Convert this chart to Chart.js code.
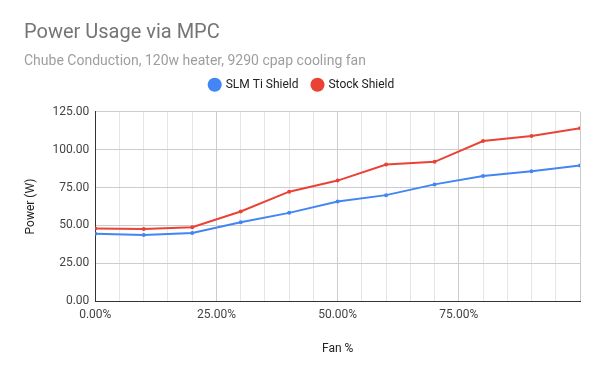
<!DOCTYPE html>
<html>
<head>
<meta charset="utf-8">
<script src="https://cdn.jsdelivr.net/npm/chart.js@4"></script>
<style>
  body { margin: 0; background: #fff; }
  #wrap { width: 600px; height: 371px; }
</style>
</head>
<body>
<div id="wrap"><canvas id="chart"></canvas></div>
<script>
// Dados
const fanPct = [0, 10, 20, 30, 40, 50, 60, 70, 80, 90, 100];
const slmTiShield = [44.5, 43.7, 45.0, 52.1, 58.3, 65.8, 70.0, 77.1, 82.7, 85.8, 89.5];
const stockShield = [47.9, 47.7, 48.8, 59.2, 72.3, 79.6, 90.2, 92.0, 105.7, 109.0, 114.2];
const yTicks = [0, 25, 50, 75, 100, 125];

const toPoints = (vals) => vals.map((v, i) => ({ x: fanPct[i], y: v }));

function makeSeries(label, values, color) {
    return {
        label: label,
        data: toPoints(values),
        borderColor: color,
        backgroundColor: color,
        borderWidth: 2,
        pointRadius: 2,
        pointBorderWidth: 0,
        pointBackgroundColor: color,
        tension: 0
    };
}

// espaço extra abaixo da legenda
const legendGap = {
    id: 'legendGap',
    beforeInit(chart) {
        const origFit = chart.legend.fit;
        chart.legend.fit = function() {
            origFit.bind(chart.legend)();
            this.height += 11;
        };
    }
};

const chartConfig = {
    type: 'line',
    data: {
        datasets: [
            makeSeries('SLM Ti Shield', slmTiShield, '#4285F4'),
            makeSeries('Stock Shield', stockShield, '#EA4335')
        ]
    },
    options: {
        responsive: true,
        maintainAspectRatio: false,
        animation: false,
        layout: {
            padding: { left: 24, right: 20, top: 21, bottom: 15 }
        },
        plugins: {
            title: {
                display: true,
                text: 'Power Usage via MPC',
                align: 'start',
                color: '#757575',
                font: { family: 'Roboto', size: 20, weight: 'normal' },
                padding: { top: 0, bottom: 8 }
            },
            subtitle: {
                display: true,
                text: 'Chube Conduction, 120w heater, 9290 cpap cooling fan',
                align: 'start',
                color: '#9e9e9e',
                font: { family: 'Roboto', size: 14, weight: 'normal' },
                padding: { top: 0, bottom: -5 }
            },
            legend: {
                display: true,
                position: 'top',
                labels: {
                    usePointStyle: true,
                    pointStyle: 'circle',
                    boxWidth: 10,
                    boxHeight: 10,
                    color: '#222',
                    padding: 14,
                    font: { family: 'Roboto', size: 12 }
                }
            },
            tooltip: { enabled: false }
        },
        scales: {
            x: {
                type: 'linear',
                min: 0,
                max: 100,
                border: { color: '#333', width: 1 },
                grid: {
                    drawTicks: false,
                    color: (ctx) => (ctx.tick && ctx.tick.value % 25 === 0) ? '#cccccc' : '#e6e6e6'
                },
                ticks: {
                    stepSize: 5,
                    autoSkip: false,
                    maxRotation: 0,
                    padding: 7,
                    color: '#444',
                    font: { family: 'Roboto', size: 12 },
                    callback: function(value) {
                        if (value % 25 !== 0 || value === 100) return '';
                        return value.toFixed(2) + '%';
                    }
                },
                title: {
                    display: true,
                    text: 'Fan %',
                    color: '#222',
                    font: { family: 'Roboto', size: 12 },
                    padding: { top: 12, bottom: 0 }
                }
            },
            y: {
                min: 0,
                max: 125,
                border: { color: '#333', width: 1 },
                grid: { drawTicks: false, color: '#cccccc' },
                afterBuildTicks: (axis) => {
                    axis.ticks = yTicks.map(v => ({ value: v }));
                },
                ticks: {
                    padding: 6,
                    color: '#444',
                    font: { family: 'Roboto', size: 12 },
                    callback: (value) => value.toFixed(2)
                },
                title: {
                    display: true,
                    text: 'Power (W)',
                    color: '#222',
                    font: { family: 'Roboto', size: 12 },
                    padding: { top: 0, bottom: 8 }
                }
            }
        }
    },
    plugins: [legendGap]
};

new Chart(document.getElementById('chart'), chartConfig);
</script>
</body>
</html>
